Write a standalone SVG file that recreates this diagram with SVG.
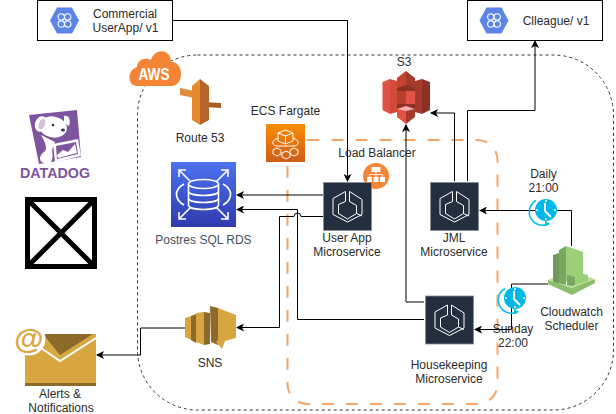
<svg xmlns="http://www.w3.org/2000/svg" width="616" height="414" viewBox="0 0 616 414">
<style>
text{font-family:"Liberation Sans",Arial,sans-serif;font-size:12px;fill:#2b2b2b;text-anchor:middle}
.box{fill:#fff;stroke:#000;stroke-width:1}
.c{fill:none;stroke:#000;stroke-width:1}
.ecsbg{fill:#232f3e;stroke:#8a9099;stroke-width:.8}
.ecsl{fill:none;stroke:#fff;stroke-width:1}
</style>
<defs>
<marker id="a" viewBox="0 0 8 8" refX="7" refY="4" markerWidth="8" markerHeight="8" markerUnits="userSpaceOnUse" orient="auto"><path d="M0 0L8 4L0 8L2 4Z" fill="#000"/></marker>
<linearGradient id="rds" x1="0" y1="1" x2="0" y2="0"><stop offset="0" stop-color="#2e3bad"/><stop offset="1" stop-color="#4d72f3"/></linearGradient>
<linearGradient id="far" x1="0" y1="1" x2="0" y2="0"><stop offset="0" stop-color="#d05c17"/><stop offset="1" stop-color="#f78e04"/></linearGradient>
<g id="gcp"><path d="M-14.500 0L-7.500 -13H7.500L14.500 0L7.500 13H-7.500Z" fill="#5c85e8"/><g fill="none" stroke="#fff" stroke-width="1.100"><circle cx="-3.200" cy="-3.500" r="3.200"/><circle cx="3.200" cy="-3.500" r="3.200"/><circle cx="-3.200" cy="3.500" r="3.200"/><circle cx="3.200" cy="3.500" r="3.200"/></g></g>
<g id="ecs"><rect class="ecsbg" x="-24" y="-24" width="48" height="48"/><path class="ecsl" d="M-2 -15L-14.500 -8V8L0 15.500L14.500 8V-7L2 -15V-5L9 -1V7L0 12.500L-9 7V-2L-2 -5Z"/><path class="ecsl" d="M9 7L14.500 9.500"/></g>
<g id="clock"><path d="M-8 -10.500A13 13 0 1 0 5 12.500" fill="none" stroke="#12c0ee" stroke-width="1.600"/><path d="M1 9.500L6 13L1 15.500Z" fill="#12c0ee"/><circle cx="2" cy="-1" r="11" fill="#00b9e9"/><path d="M1 -8L1 0L7 6" fill="none" stroke="#fff" stroke-width="2"/><g fill="#fff"><circle cx="2" cy="-10" r="1"/><circle cx="11" cy="-1" r="1"/><circle cx="2" cy="8" r="1"/><circle cx="-7" cy="-1" r="1"/></g></g>
</defs>
<rect width="616" height="414" fill="#fff"/>

<g id="aws-boundary"><rect x="137.500" y="55" width="476" height="355" rx="60" ry="60" fill="none" stroke="#333" stroke-width="1" stroke-dasharray="3 3"/></g>
<g id="fargate-boundary"><rect x="287.500" y="140" width="210" height="264" rx="20" ry="20" fill="none" stroke="#f5a566" stroke-width="2" stroke-dasharray="12 12"/></g>

<g id="connectors">
<path class="c" d="M172 20.500H347.500V181" marker-end="url(#a)"/>
<path class="c" d="M323 195H237" marker-end="url(#a)"/>
<path class="c" d="M424 319.500H297.500V209.500H237" marker-end="url(#a)"/>
<path class="c" d="M323 216.500H301A3.500 3.500 0 0 0 294 216.500H279.500V327.500H237" marker-end="url(#a)"/>
<path class="c" d="M185 328H140.500V355H97" marker-end="url(#a)"/>
<path class="c" d="M454.500 181V113H431" marker-end="url(#a)"/>
<path class="c" d="M467.500 181V110.500H535V41" marker-end="url(#a)"/>
<path class="c" d="M424 302H406V125" marker-end="url(#a)"/>
<path class="c" d="M571.500 246V210.500H480" marker-end="url(#a)"/>
<path class="c" d="M548 284H511.500V329.500H475" marker-end="url(#a)"/>
</g>

<g id="commercial-app"><rect class="box" x="37.500" y="0.500" width="135" height="40"/><use href="#gcp" x="64.500" y="20.500"/><text x="125" y="18">Commercial</text><text x="125.500" y="32">UserApp/ v1</text></g>
<g id="clleague"><rect class="box" x="467.500" y="0.500" width="135" height="40"/><use href="#gcp" x="494" y="20.500"/><text x="556" y="25">Clleague/ v1</text></g>

<g id="aws-cloud"><path d="M137 86C127 86 127 70 137 67C137 59 146 57 151 60C154 48 171 48 171 62C184 61 185 86 171 86Z" fill="#f58536"/><text x="154" y="80" textLength="31" lengthAdjust="spacingAndGlyphs" style="font-size:16px;font-weight:bold;fill:#fff">AWS</text></g>

<g id="route53"><path d="M180 88L199 92V99L180 95Z" fill="#e08a3c"/><path d="M204 102L221 103V108L204 107Z" fill="#a85f28"/><path d="M192 86L200 79V125L192 120Z" fill="#e8892f"/><path d="M200 79L209 86V120L200 125Z" fill="#b5652a"/><text x="200" y="142">Route 53</text></g>

<g id="ecs-fargate"><rect x="266" y="124" width="39" height="38" fill="url(#far)"/><g fill="none" stroke="#fff" stroke-width="1"><path d="M278 133L285.500 130L293 133V141L285.500 144L278 141ZM278 133L285.500 136L293 133M285.500 136V144"/><path d="M278 138C272 140 271 144 276 146H295C300 144 299 140 293 138"/><path d="M277 148l4 2v4l-4 2l-4-2v-4ZM286 151l4 2v4l-4 2l-4-2v-4ZM294 148l4 2v4l-4 2l-4-2v-4Z"/></g><text x="285.500" y="115">ECS Fargate</text></g>

<g id="rds-node"><rect x="171" y="162" width="65" height="65" fill="url(#rds)"/><g fill="none" stroke="#fff" stroke-width="1.600"><path d="M179 170L191 182M179 177V170H186M228 170L216 182M228 177V170H221M179 219L191 207M179 212V219H186M228 219L216 207M228 212V219H221"/><ellipse cx="203.500" cy="184" rx="15" ry="4.500"/><path d="M188.500 184V205C188.500 211 218.500 211 218.500 205V184M188.500 191C188.500 197 218.500 197 218.500 191M188.500 198C188.500 204 218.500 204 218.500 198"/><path d="M184 184C173 190 175 200 184 205M223 184C234 190 232 200 223 205"/></g><text x="203.500" y="244" style="fill:#46505c">Postres SQL RDS</text></g>

<g id="s3"><path d="M382.500 82L390 79V114L382.500 110Z" fill="#e05243"/><path d="M390 79L397 81V112L390 114Z" fill="#d24a3b"/><path d="M430 82L422 79V114L430 110Z" fill="#8c3123"/><path d="M422 79L415 81V112L422 114Z" fill="#a63a2c"/><rect x="397" y="78" width="18" height="39" fill="#8c3123"/><path d="M397 78L406 71V85L397 88Z" fill="#c5432f"/><path d="M415 78L406 71V85L415 88Z" fill="#a63a2c"/><path d="M397 91H406V104H397Z" fill="#b8402f"/><path d="M415 91H406V104H415Z" fill="#e05243"/><path d="M397 109L406 107V124L397 117Z" fill="#e05243"/><path d="M406 107L415 109V117L406 124Z" fill="#a63a2c"/><path d="M397 109L406 106L415 109L406 111Z" fill="#f2b0a9"/><text x="404" y="66">S3</text></g>

<g id="load-balancer"><circle cx="376" cy="176" r="13" fill="#f58536"/><g fill="#fff"><rect x="371.500" y="167" width="9" height="5"/><rect x="367" y="177" width="5" height="5"/><rect x="373.500" y="177" width="5" height="5"/><rect x="380" y="177" width="5" height="5"/></g><path d="M376 172V177M369.500 177V174.500H382.500V177" fill="none" stroke="#fff" stroke-width=".8"/><text x="377" y="157">Load Balancer</text></g>

<g id="user-app"><use href="#ecs" x="347.500" y="206.500"/><text x="347" y="242">User App</text><text x="347" y="256">Microservice</text></g>
<g id="jml"><use href="#ecs" x="454.500" y="206.500"/><text x="454" y="242">JML</text><text x="454" y="256">Microservice</text></g>
<g id="housekeeping"><use href="#ecs" x="449.500" y="320"/><text x="449" y="369">Housekeeping</text><text x="449" y="383">Microservice</text></g>

<g id="daily-clock"><use href="#clock" x="544" y="211"/><text x="543.500" y="178">Daily</text><text x="543.500" y="192">21:00</text></g>
<g id="sunday-clock"><use href="#clock" x="513" y="299"/><text x="513" y="333">Sunday</text><text x="513" y="347">22:00</text></g>

<g id="cloudwatch"><path d="M553 255L559 253V284L553 282Z" fill="#6f9a58"/><path d="M559 250L566 246V286L559 284Z" fill="#7aa860"/><path d="M566 246L583 252V276L566 282Z" fill="#9bcf78"/><path d="M567 275L575 272L588 275V284L575 288L567 286Z" fill="#9bcf78"/><path d="M567 275L575 277V288L567 286Z" fill="#7aa860"/><path d="M548 280L572 288L595 279V283L572 295L548 284Z" fill="#8dbd6c"/><path d="M548 280L553 278V282L572 286L588 281V277L595 279L572 288Z" fill="#b9e09f"/><text x="571.500" y="316">Cloudwatch</text><text x="571.500" y="330">Scheduler</text></g>

<g id="sns"><path d="M185 318L191 316V340L185 337Z" fill="#d9a741"/><path d="M191 316L196 314V343L191 340Z" fill="#8c6a2a"/><path d="M196 313L204 312V345L196 342Z" fill="#d9a741"/><path d="M204 312L210 313V344L204 345Z" fill="#8c6a2a"/><path d="M210 306L218 308V345L211 342Z" fill="#8c6a2a"/><path d="M218 308L236 315V338L225 341L222 349L216 342L218 340Z" fill="#d9a741"/><text x="210" y="367">SNS</text></g>

<g id="alerts"><path d="M25 334H96V386H25Z" fill="#d9a741"/><path d="M25 383H96V386H25Z" fill="#8c6a2a"/><path d="M43 334H93L60 355Z" fill="#8c6a2a"/><path d="M25 337L60 361L96 338" fill="none" stroke="#fff" stroke-width="2"/><circle cx="29" cy="339" r="16.500" fill="#fff"/><text x="29" y="349" style="font-size:30px;font-weight:bold;fill:#d9a741">@</text><text x="60" y="398">Alerts &amp;</text><text x="61" y="412">Notifications</text></g>

<g id="datadog"><path d="M29 115L77 110L81 157L39 164Z" fill="#7d549d"/><ellipse cx="53" cy="127" rx="14" ry="10.500" fill="#fff" transform="rotate(10 53 127)"/><ellipse cx="41" cy="124" rx="6" ry="8" fill="#fff" transform="rotate(20 41 124)"/><path d="M64 116C69 115 71 120 69 126L64 123Z" fill="#fff"/><path d="M41 135C47 145 47 150 44 152C38 156 39 163 45 163H50C53 160 53 155 52 150L55 142Z" fill="#fff"/><ellipse cx="42" cy="124" rx="3" ry="5.500" fill="#7d549d" transform="rotate(20 42 124)" opacity=".35"/><circle cx="53" cy="125" r="1.300" fill="#3d2a55"/><ellipse cx="63" cy="130" rx="2" ry="1.500" fill="#3d2a55"/><path d="M53 144L78 139L81 156L55 162Z" fill="#fff"/><path d="M56 146L76 142L78 154L57 159Z" fill="#7d549d"/><path d="M57 155L63 150L68 152L75 144L77 153L58 158Z" fill="#fff"/><text x="55" y="178" textLength="70" lengthAdjust="spacingAndGlyphs" style="font-size:15px;font-weight:bold;fill:#7d549d">DATADOG</text></g>

<g id="placeholder"><rect x="27.500" y="199.500" width="67" height="67" fill="#fff" stroke="#000" stroke-width="5"/><path d="M27.500 199.500L94.500 266.500M94.500 199.500L27.500 266.500" stroke="#000" stroke-width="5"/></g>
</svg>
